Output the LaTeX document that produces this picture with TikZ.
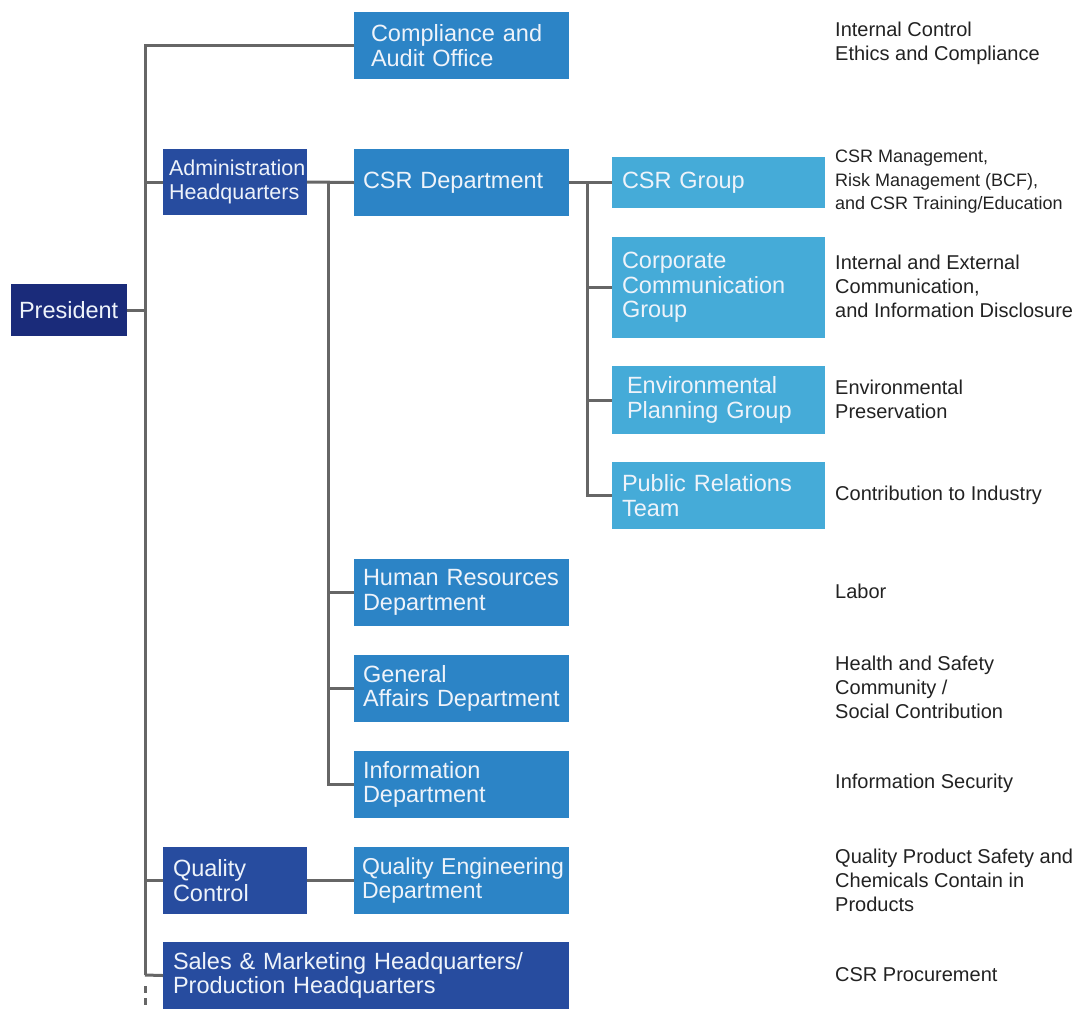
\documentclass[tikz,border=0pt]{standalone}
\usepackage{fontspec}
\setmainfont{Liberation Sans}
\definecolor{cnavy}{HTML}{1A2B7A}
\definecolor{cdark}{HTML}{274C9F}
\definecolor{cmid}{HTML}{2C84C6}
\definecolor{clight}{HTML}{45ABD8}
\definecolor{boxtxt}{HTML}{EEF3FA}
\definecolor{rtext}{HTML}{222222}
\definecolor{conncol}{HTML}{666666}
\begin{document}
\begin{tikzpicture}[x=1pt,y=-1pt,
  box/.style={anchor=north west, inner ysep=0pt, outer sep=0pt, align=left, text=boxtxt,
    font=\fontsize{23.5}{24.5}\selectfont,
    execute at begin node={\hyphenpenalty=10000\exhyphenpenalty=10000\hbadness=10000\hfuzz=50pt}},
  rtxt/.style={anchor=west, align=left, inner sep=0pt, text=rtext, font=\fontsize{20}{24}\selectfont},
  conn/.style={draw=conncol, line width=3pt}]
\useasboundingbox (0,0) rectangle (1078,1010);

% boxes
\node[box, fill=cnavy, text width=100pt, inner xsep=8pt, minimum height=52pt] (pres) at (11,284) {President};
\node[box, fill=cmid, text width=181pt, inner xsep=17pt, minimum height=67pt] (comp) at (354,12) {Compliance~and\\Audit~Office};
\node[box, fill=cdark, text width=132pt, inner xsep=6pt, minimum height=66pt, font=\fontsize{21.5}{24}\selectfont] (admin) at (163,149) {Administration\\Headquarters};
\node[box, fill=cmid, text width=197pt, inner xsep=9pt, minimum height=67pt] (csr) at (354,149) {CSR~Department};
\node[box, fill=clight, text width=193pt, inner xsep=10pt, minimum height=51pt] (csrg) at (612,157) {CSR~Group};
\node[box, fill=clight, text width=193pt, inner xsep=10pt, minimum height=101pt] (corp) at (612,237) {Corporate\\Communication\\Group};
\node[box, fill=clight, text width=183pt, inner xsep=15pt, minimum height=68pt] (env) at (612,366) {Environmental\\Planning~Group};
\node[box, fill=clight, text width=193pt, inner xsep=10pt, minimum height=67pt] (prt) at (612,462) {Public~Relations\\Team};
\node[box, fill=cmid, text width=197pt, inner xsep=9pt, minimum height=67pt] (hr) at (354,559) {Human~Resources\\Department};
\node[box, fill=cmid, text width=197pt, inner xsep=9pt, minimum height=67pt] (ga) at (354,655) {General\\Affairs~Department};
\node[box, fill=cmid, text width=197pt, inner xsep=9pt, minimum height=67pt] (info) at (354,751) {Information\\Department};
\node[box, fill=cdark, text width=124pt, inner xsep=10pt, minimum height=67pt] (qc) at (163,847) {Quality\\Control};
\node[box, fill=cmid, text width=199pt, inner xsep=8pt, minimum height=67pt, font=\fontsize{23}{24.5}\selectfont] (qed) at (354,847) {Quality~Engineering\\Department};
\node[box, fill=cdark, text width=386pt, inner xsep=10pt, minimum height=67pt] (sales) at (163,942) {Sales~\&~Marketing~Headquarters/\\Production~Headquarters};

% right texts
\node[rtxt] (t1) at (835,43) {Internal Control\\Ethics and Compliance};
\node[rtxt, font=\fontsize{18}{23.5}\selectfont] (t2) at (835,182) {CSR Management,\\Risk Management (BCF),\\and CSR Training/Education};
\node[rtxt] (t3) at (835,286) {Internal and External\\Communication,\\and Information Disclosure};
\node[rtxt] (t4) at (835,399) {Environmental\\Preservation};
\node[rtxt] (t5) at (835,495) {Contribution to Industry};
\node[rtxt] (t6) at (835,591) {Labor};
\node[rtxt] (t7) at (835,687) {Health and Safety\\Community /\\Social Contribution};
\node[rtxt] (t8) at (835,783) {Information Security};
\node[rtxt] (t9) at (835,880) {Quality Product Safety and\\Chemicals Contain in\\Products};
\node[rtxt] (t10) at (835,975) {CSR Procurement};

% connector coordinates
\coordinate (tx) at (145,0);
\coordinate (tbot) at (145,975);
\coordinate (tend) at (145,1010);
\coordinate (sx) at (328,0);
\coordinate (gx) at (587,0);

% main trunk
\draw[conn] (comp.west) -| (tbot);
\draw[conn] (tbot) -- (sales.west);
\draw[conn, dash pattern=on 7pt off 5pt] ([yshift=-11pt]tbot) -- (tend);
\draw[conn] (pres.east) -- (pres.east -| tx);
\draw[conn] (admin.west -| tx) -- (admin.west);
\draw[conn] (qc.west -| tx) -- (qc.west);
\draw[conn] (qc.east) -- (qed.west);
\draw[conn] (admin.east) -- (csr.west);

% admin sub-trunk
\draw[conn] (admin.east -| sx) |- (info.west);
\draw[conn] (hr.west -| sx) -- (hr.west);
\draw[conn] (ga.west -| sx) -- (ga.west);

% CSR groups
\draw[conn] (csr.east) -- (csrg.west);
\draw[conn] (csr.east -| gx) |- (prt.west);
\draw[conn] (corp.west -| gx) -- (corp.west);
\draw[conn] (env.west -| gx) -- (env.west);
\end{tikzpicture}
\end{document}
